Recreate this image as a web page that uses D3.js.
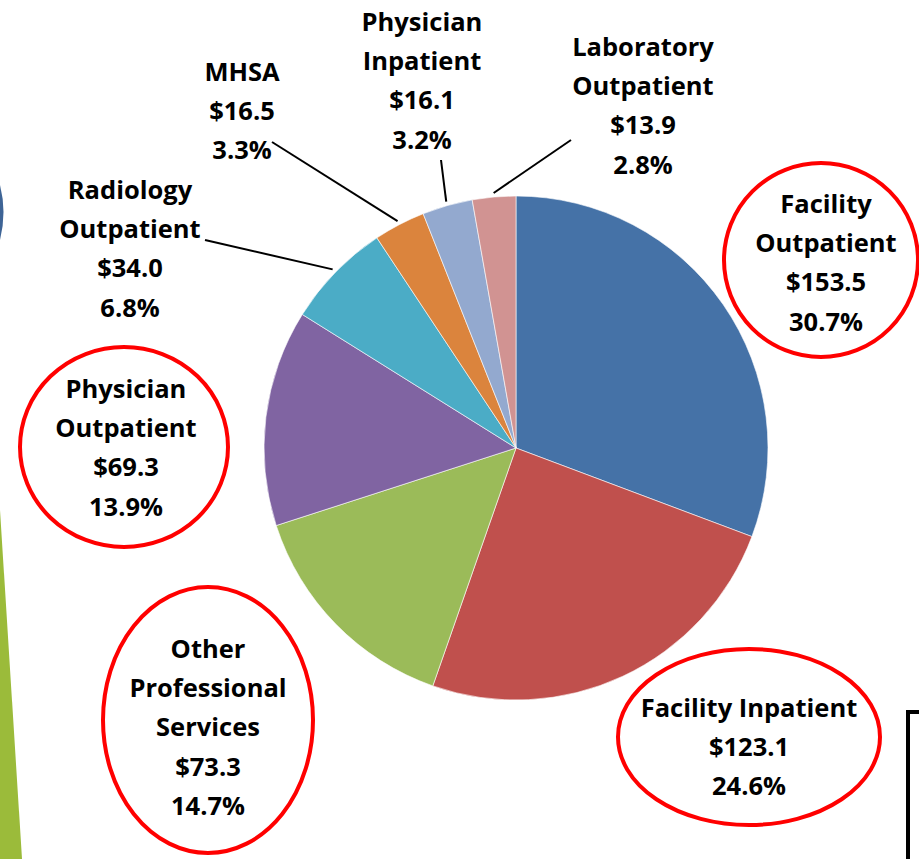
<!DOCTYPE html>
<html><head><meta charset="utf-8">
<script src="https://cdn.jsdelivr.net/npm/d3@7"></script>
<style>html,body{margin:0;padding:0;background:#fff;overflow:hidden}</style>
</head><body>
<svg id="c" width="919" height="859"></svg>
<script>
const categories = ["Facility Outpatient","Facility Inpatient","Other Professional Services","Physician Outpatient","Radiology Outpatient","MHSA","Physician Inpatient","Laboratory Outpatient"];
const values = [153.5,123.1,73.3,69.3,34.0,16.5,16.1,13.9];
const percents = ["30.7%","24.6%","14.7%","13.9%","6.8%","3.3%","3.2%","2.8%"];
const colors = ["#4572A7","#C0504D","#9BBB59","#8064A2","#4BACC6","#DB843D","#93A9CF","#D19392"];
const labelLines = [["Facility","Outpatient"],["Facility Inpatient"],["Other","Professional","Services"],["Physician","Outpatient"],["Radiology","Outpatient"],["MHSA"],["Physician","Inpatient"],["Laboratory","Outpatient"]];
// label layout (center x, first-line center y)
const labelPos = [[826,204],[749,708],[208,649],[126,389],[130,190],[242,72],[422,22],[643,47]];
// circled labels: [index, cx, cy, rx, ry]
const circled = [[0,821,260,97,97],[1,749,737,131,88],[2,208,720,105,133],[3,124,447,104,100]];
// leader lines: [index, outer x, outer y]
const leaders = [[4,205,240],[5,272,142],[6,441,160],[7,571,140]];

const svg = d3.select("#c");
const cx = 516, cy = 448, R = 252;

// decorative left shapes and box
svg.append("path").attr("d","M0,510 L22,859 L0,859 Z").attr("fill","#9BBB3A");
svg.append("path").attr("d","M0,185 Q7,212 0,240 Z").attr("fill","#3E6496");
svg.append("rect").attr("x",908).attr("y",712).attr("width",40).attr("height",200)
  .attr("fill","none").attr("stroke","#000").attr("stroke-width",4);

const pie = d3.pie().sort(null).value(d=>d)(values);
const arc = d3.arc().innerRadius(0).outerRadius(R);
const g = svg.append("g").attr("transform",`translate(${cx},${cy})`);
g.selectAll("path").data(pie).join("path")
  .attr("d",arc).attr("fill",(d,i)=>colors[i])
  .attr("stroke","#fff").attr("stroke-width",0.6);

// leader lines
leaders.forEach(([i,x,y])=>{
  const a = (pie[i].startAngle+pie[i].endAngle)/2;
  const r2 = R+4;
  svg.append("line").attr("x1",x).attr("y1",y)
    .attr("x2",cx+r2*Math.sin(a)).attr("y2",cy-r2*Math.cos(a))
    .attr("stroke","#000").attr("stroke-width",2);
});

// circles
circled.forEach(([i,ex,ey,rx,ry])=>{
  svg.append("ellipse").attr("cx",ex).attr("cy",ey).attr("rx",rx).attr("ry",ry)
    .attr("fill","none").attr("stroke","#FF0000").attr("stroke-width",4);
});

// labels
categories.forEach((c,i)=>{
  const lines = labelLines[i].concat(["$"+values[i].toFixed(1), percents[i]]);
  const [x,y] = labelPos[i];
  const t = svg.append("text").attr("text-anchor","middle")
    .attr("font-family","'Open Sans', sans-serif").attr("font-weight","bold")
    .attr("font-size",25.5).attr("fill","#000");
  lines.forEach((l,k)=>{
    t.append("tspan").attr("x",x).attr("y",y+k*39.2).attr("dy","0.35em").text(l);
  });
});
</script>
</body></html>
